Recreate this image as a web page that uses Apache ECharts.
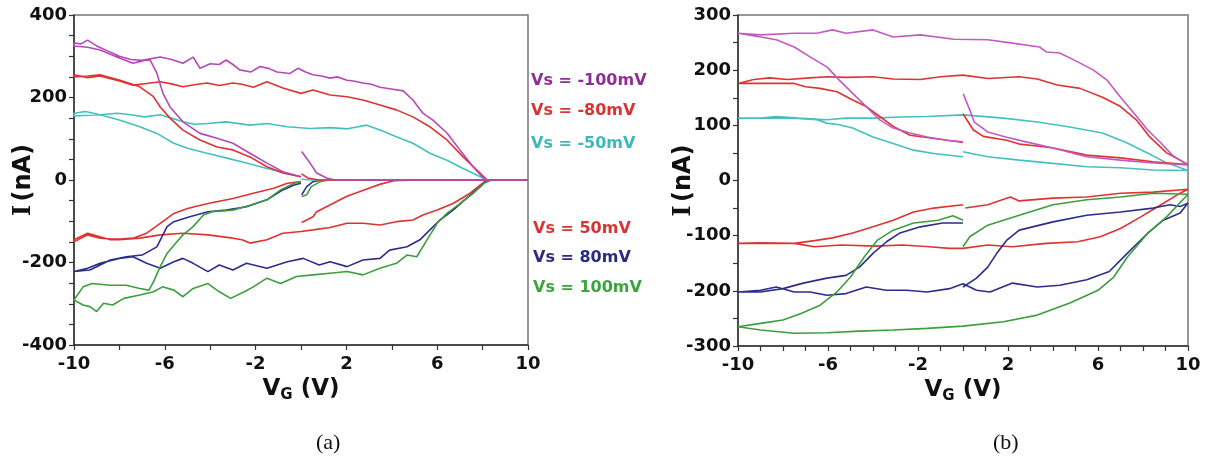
<!DOCTYPE html>
<html>
<head>
<meta charset="utf-8">
<script src="https://cdn.jsdelivr.net/npm/echarts@6/dist/echarts.min.js"></script>
<style>
html,body{margin:0;padding:0;background:#fff;}
#chart{width:1209px;height:463px;}
</style>
</head>
<body>
<div id="chart"></div>
<script>
// ---------- Data (sweep order: 0 -> 10 -> -10 -> 0), [V_G, I(nA)] ----------
// Panel (a)
var aM100 = [[0.03,69],[0.4,41],[0.69,17],[1.13,5],[1.5,0],[4,0],[8.2,0],[10,0],
  [8.2,0],[8.0,7],[7.58,32],[7.0,73],[6.43,114],[5.81,145],[5.37,162],[4.93,194],[4.5,216],[4.05,220],[3.48,225],[3.1,232],[2.73,235],[2.3,240],[2.03,242],[1.6,250],[1.28,247],[0.9,252],[0.53,255],[0.2,262],[-0.13,271],[-0.5,258],[-1.06,262],[-1.4,270],[-1.8,275],[-2.2,262],[-2.7,267],[-3.0,280],[-3.3,291],[-3.6,280],[-4.0,282],[-4.45,271],[-4.75,298],[-5.2,283],[-5.7,292],[-6.2,298],[-7.0,290],[-7.5,292],[-8.0,300],[-8.4,310],[-9.0,325],[-9.4,339],[-9.7,330],[-10,332],
  [-10,325],[-9.4,322],[-8.85,315],[-7.97,295],[-7.4,283],[-6.9,290],[-6.65,291],[-6.35,259],[-6.08,210],[-5.77,177],[-5.2,141],[-4.45,113],[-3.7,101],[-3.0,89],[-2.25,65],[-1.5,41],[-0.8,20],[-0.04,8]];
var aM80 = [[0.02,15],[0.3,5],[0.8,0],[10,0],
  [8.2,0],[7.9,16],[7.14,56],[6.43,97],[5.68,129],[4.93,153],[4.2,170],[3.48,182],[2.73,194],[2.03,202],[1.28,206],[0.53,218],[0,210],[-0.8,223],[-1.5,238],[-2.1,225],[-2.6,232],[-3.0,235],[-3.6,229],[-4.14,235],[-4.7,231],[-5.2,226],[-5.7,233],[-6.2,238],[-6.8,234],[-7.4,230],[-8.0,240],[-8.85,252],[-9.4,248],[-10,255],
  [-10,250],[-9.4,252],[-8.85,255],[-7.97,242],[-7.1,226],[-6.5,202],[-6.2,177],[-5.77,150],[-5.2,121],[-4.45,97],[-3.7,80],[-3.0,73],[-2.25,56],[-1.5,32],[-0.8,17],[0,8]];
var aM50 = [[0.02,2],[0.5,0],[10,0],
  [8.2,0],[7.9,8],[7.14,28],[6.43,48],[5.68,65],[4.93,89],[4.2,105],[3.48,121],[2.9,133],[2.4,128],[2.03,124],[1.3,127],[0.4,125],[-0.6,129],[-1.5,137],[-2.25,133],[-3.3,141],[-4.1,137],[-4.7,135],[-5.2,141],[-5.7,150],[-6.2,158],[-6.9,153],[-7.5,158],[-8.1,162],[-8.85,158],[-9.5,166],[-10,162],
  [-10,155],[-8.85,158],[-7.97,145],[-7.1,129],[-6.35,113],[-5.6,89],[-5.0,77],[-4.14,65],[-3.26,53],[-2.4,41],[-1.5,28],[-0.6,16],[0,8]];
var a50 = [[0.03,-103],[0.53,-89],[0.69,-77],[1.4,-57],[2.0,-40],[2.9,-22],[3.5,-10],[4.1,-2],[5,0],[10,0],
  [8.2,0],[7.9,-12],[7.45,-32],[6.7,-57],[6.0,-73],[5.37,-85],[4.93,-97],[4.2,-101],[3.48,-109],[2.73,-105],[2.03,-105],[1.28,-115],[0.53,-121],[0,-125],[-0.8,-129],[-1.5,-145],[-2.25,-153],[-2.6,-145],[-3.0,-141],[-4.1,-133],[-5.2,-129],[-6.2,-133],[-7.1,-141],[-8.0,-145],[-8.85,-141],[-9.4,-133],[-10,-150],
  [-10,-145],[-9.4,-129],[-8.4,-145],[-7.4,-141],[-6.8,-129],[-6.2,-105],[-5.6,-81],[-5.0,-69],[-4.1,-57],[-3.0,-45],[-2.1,-32],[-1.2,-20],[-0.6,-8],[0,-4]];
var a80 = [[0.03,-36],[0.25,-16],[0.53,-4],[0.9,0],[10,0],
  [8.2,0],[7.9,-16],[7.3,-44],[6.7,-73],[6.12,-97],[5.68,-121],[5.24,-145],[4.67,-162],[3.9,-170],[3.48,-190],[2.73,-194],[2.03,-210],[1.28,-198],[0.8,-206],[0.1,-190],[-0.6,-198],[-1.5,-214],[-2.4,-202],[-3.0,-218],[-3.6,-206],[-4.1,-222],[-4.75,-202],[-5.2,-190],[-5.6,-198],[-6.2,-214],[-6.8,-202],[-7.4,-186],[-8.0,-190],[-8.85,-202],[-9.4,-214],[-10,-222],
  [-10,-226],[-9.3,-218],[-8.4,-194],[-7.7,-186],[-7.0,-182],[-6.35,-162],[-5.9,-113],[-5.6,-101],[-4.9,-89],[-4.1,-77],[-3.3,-73],[-2.4,-65],[-1.5,-48],[-0.8,-24],[-0.3,-12],[0,-8]];
var a100 = [[0.03,-40],[0.25,-36],[0.45,-16],[0.85,-4],[1.2,0],[10,0],
  [8.4,0],[8.05,-8],[7.6,-32],[7.0,-57],[6.43,-81],[6.0,-105],[5.55,-145],[5.1,-186],[4.67,-182],[4.2,-202],[3.48,-214],[2.73,-230],[2.03,-222],[1.28,-226],[0.53,-230],[-0.2,-234],[-0.9,-251],[-1.5,-238],[-2.1,-259],[-2.5,-271],[-3.1,-287],[-3.6,-271],[-4.1,-251],[-4.75,-263],[-5.2,-283],[-5.6,-267],[-6.1,-259],[-6.5,-271],[-7.1,-279],[-7.8,-287],[-8.3,-303],[-8.7,-299],[-9.0,-319],[-9.3,-307],[-9.6,-303],[-10,-291],
  [-10,-295],[-9.6,-259],[-9.2,-251],[-8.4,-255],[-7.7,-255],[-7.1,-263],[-6.7,-267],[-6.5,-247],[-6.2,-210],[-5.9,-178],[-5.6,-158],[-5.2,-133],[-4.75,-113],[-4.3,-85],[-3.9,-77],[-3.0,-73],[-2.25,-61],[-1.5,-48],[-0.9,-24],[-0.3,-8],[0,-4]];

// Panel (b)
var bM100 = [[0.01,157],[0.3,128],[0.5,106],[1.1,88],[1.9,79],[2.8,70],[4.0,59],[5.5,43],[7.0,37],[8.45,32],[10,28],
  [9.3,46],[8.8,68],[8.2,92],[7.6,122],[7.0,151],[6.4,182],[5.8,200],[5.1,215],[4.3,231],[3.7,233],[3.4,242],[2.2,249],[1.1,255],[-0.4,256],[-1.9,264],[-3.1,260],[-4.0,273],[-5.2,267],[-5.8,273],[-6.5,267],[-7.5,267],[-9.0,264],[-10,267],
  [-9.0,260],[-8.3,255],[-7.5,242],[-6.8,224],[-6.05,206],[-5.5,182],[-4.9,158],[-4.3,134],[-3.7,110],[-3.1,95],[-2.35,86],[-1.6,79],[-0.7,73],[0,70]];
var bM80 = [[0,121],[0.45,92],[0.9,80],[1.94,73],[2.5,66],[3.4,62],[4.0,59],[5.5,46],[7.0,41],[8.45,34],[10,29],
  [9.05,50],[8.3,79],[7.7,110],[7.0,134],[6.2,151],[5.2,167],[4.2,173],[3.3,184],[2.5,188],[1.1,185],[0,191],[-1.0,188],[-1.9,183],[-3.1,184],[-4.0,188],[-5.2,187],[-6.05,188],[-6.8,186],[-7.8,183],[-8.6,186],[-9.3,183],[-10,176],
  [-9.0,176],[-7.5,176],[-7.0,170],[-6.35,167],[-5.6,161],[-4.9,146],[-4.3,134],[-3.7,116],[-3.1,98],[-2.35,82],[-1.6,78],[-0.7,73],[0,69]];
var bM50 = [[0,52],[1.1,43],[2.5,37],[4.0,31],[5.5,25],[7.0,23],[8.45,19],[10,18],
  [9.05,32],[8.2,50],[7.3,68],[6.2,86],[4.75,97],[3.3,106],[1.8,113],[0,119],[-1.6,116],[-2.8,115],[-4.0,113],[-5.2,113],[-6.05,110],[-7.3,113],[-8.3,116],[-9.0,113],[-10,113],
  [-9,113],[-7.5,113],[-6.5,110],[-6.05,104],[-5.5,101],[-4.9,95],[-4.0,79],[-3.1,67],[-2.2,55],[-1.3,49],[0,43]];
var b50 = [[0.1,-50],[1.1,-44],[2.1,-30],[2.5,-37],[4.0,-32],[5.5,-30],[7.0,-23],[8.45,-21],[10,-16],
  [9.65,-23],[8.8,-44],[7.9,-66],[7.0,-87],[6.1,-102],[5.1,-111],[3.7,-114],[2.2,-120],[1.1,-117],[0,-123],[-0.6,-123],[-1.5,-120],[-2.7,-117],[-3.9,-119],[-5.4,-117],[-6.6,-120],[-7.5,-114],[-9.0,-114],[-10,-114],
  [-9.0,-113],[-7.5,-114],[-6.6,-109],[-5.8,-104],[-4.9,-95],[-4.0,-84],[-3.1,-72],[-2.2,-57],[-1.3,-50],[0,-44]];
var b80 = [[0,-193],[0.6,-177],[1.1,-157],[1.5,-132],[1.95,-108],[2.5,-90],[4.0,-75],[5.5,-63],[7.0,-57],[8.45,-50],[9.2,-44],[9.65,-47],[10,-41],
  [9.65,-59],[8.9,-72],[8.2,-96],[7.3,-132],[6.5,-165],[5.5,-180],[4.3,-190],[3.3,-193],[2.2,-186],[1.2,-202],[0.6,-199],[0,-187],[-0.6,-196],[-1.6,-202],[-2.5,-199],[-3.4,-199],[-4.3,-193],[-5.2,-205],[-6.05,-208],[-6.8,-202],[-7.5,-202],[-8.3,-193],[-9.0,-199],[-10,-202],
  [-9,-202],[-8,-196],[-7.1,-186],[-6.05,-177],[-5.2,-172],[-4.6,-157],[-4.0,-132],[-3.4,-111],[-2.8,-95],[-1.9,-84],[-0.9,-77],[0,-77]];
var b100 = [[0,-120],[0.3,-102],[1.1,-81],[2.5,-63],[4.0,-44],[5.5,-35],[7.0,-30],[8.45,-23],[10,-25],
  [9.05,-66],[8.2,-96],[7.3,-139],[6.7,-175],[6.0,-199],[4.75,-222],[3.3,-244],[1.8,-256],[0,-264],[-1.6,-268],[-3.1,-271],[-4.6,-273],[-6.05,-276],[-7.5,-277],[-9.0,-271],[-10,-265],
  [-9,-259],[-8,-253],[-7.2,-241],[-6.35,-226],[-5.6,-202],[-5.0,-175],[-4.4,-139],[-3.8,-108],[-3.1,-90],[-2.2,-77],[-1.1,-72],[-0.45,-64],[0,-72]];

var legendTop = ['Vs = -100mV', 'Vs = -80mV', 'Vs = -50mV'];
var legendBottom = ['Vs = 50mV', 'Vs = 80mV', 'Vs = 100mV'];
var xTickLabels = [-10, -6, -2, 2, 6, 10];
var captions = ['(a)', '(b)'];

// ---------- Styling ----------
var C = {
  purple: '#b548b8', red: '#dd3333', teal: '#45c0c0', blue: '#2d2d8c', green: '#3d9e3d'
};
var CL = {
  purple: '#8e2f96', red: '#d83434', teal: '#3fb8b8', blue: '#2a2a80', green: '#3aa53a'
};
var SANS = 'DejaVu Sans';

function xAxisCfg(gi, interval) {
  return {
    gridIndex: gi, type: 'value', min: -10, max: 10, interval: interval,
    axisLine: { onZero: false, lineStyle: { color: '#333', width: 1.5 } },
    axisTick: { inside: false, length: 5, lineStyle: { color: '#333', width: 1.2 } },
    splitLine: { show: false },
    axisLabel: {
      margin: 10, color: '#111', fontFamily: SANS, fontWeight: 'bold', fontSize: 18,
      formatter: function (v) { return xTickLabels.indexOf(v) >= 0 ? String(v) : ''; }
    },
    name: '{v|V}{g|G}{v| (V)}', nameLocation: 'middle', nameGap: 30, nameMoveOverlap: false,
    nameTextStyle: {
      rich: {
        v: { fontFamily: SANS, fontWeight: 'bold', fontSize: 23, color: '#111', lineHeight: 28 },
        g: { fontFamily: SANS, fontWeight: 'bold', fontSize: 15, color: '#111', lineHeight: 28, verticalAlign: 'bottom', padding: [14, 0, 0, 0] }
      }
    }
  };
}
function yAxisCfg(gi, lim, labStep, gap) {
  return {
    gridIndex: gi, type: 'value', min: -lim, max: lim, interval: 50,
    axisLine: { onZero: false, lineStyle: { color: '#333', width: 1.5 } },
    axisTick: { inside: false, length: 5, lineStyle: { color: '#333', width: 1.2 } },
    splitLine: { show: false },
    axisLabel: {
      margin: 7, color: '#111', fontFamily: SANS, fontWeight: 'bold', fontSize: 18,
      formatter: function (v) { return v % labStep === 0 ? String(v) : ''; }
    },
    name: '{i|I} {s|(nA)}', nameLocation: 'middle', nameRotate: 90, nameGap: gap, nameMoveOverlap: false,
    nameTextStyle: {
      rich: {
        i: { fontFamily: 'DejaVu Serif', fontWeight: 'bold', fontSize: 24, color: '#111' },
        s: { fontFamily: SANS, fontWeight: 'bold', fontSize: 24, color: '#111' }
      }
    }
  };
}
function line(data, color, xi) {
  return {
    type: 'line', data: data, xAxisIndex: xi, yAxisIndex: xi, showSymbol: false, symbol: 'none',
    lineStyle: { color: color, width: 1.6 }, silent: true, animation: false
  };
}
function legendText(txt, x, y, color) {
  return { type: 'text', left: x, top: y - 9, style: { text: txt, fill: color, font: 'bold 16px "DejaVu Sans"' } };
}

var chart = echarts.init(document.getElementById('chart'));
chart.setOption({
  animation: false,
  backgroundColor: '#fff',
  grid: [
    { left: 74, right: 681, top: 15, bottom: 118, show: true, borderColor: '#777', borderWidth: 1.5, containLabel: false, outerBoundsMode: 'none' },
    { left: 738, right: 21, top: 15, bottom: 117, show: true, borderColor: '#777', borderWidth: 1.5, containLabel: false, outerBoundsMode: 'none' }
  ],
  xAxis: [xAxisCfg(0, 2), xAxisCfg(1, 1)],
  yAxis: [yAxisCfg(0, 400, 200, 38), yAxisCfg(1, 300, 100, 42)],
  series: [
    line(a50, C.red, 0), line(a80, C.blue, 0), line(a100, C.green, 0),
    line(aM50, C.teal, 0), line(aM80, C.red, 0), line(aM100, C.purple, 0),
    line(b50, C.red, 1), line(b80, C.blue, 1), line(b100, C.green, 1),
    line(bM50, C.teal, 1), line(bM80, C.red, 1), line(bM100, '#c35ac3', 1)
  ],
  graphic: [
    legendText(legendTop[0], 531, 82, CL.purple),
    legendText(legendTop[1], 531, 112, CL.red),
    legendText(legendTop[2], 531, 145, CL.teal),
    legendText(legendBottom[0], 533, 230, CL.red),
    legendText(legendBottom[1], 533, 259, CL.blue),
    legendText(legendBottom[2], 533, 289, CL.green),
    { type: 'text', left: 316, top: 432, style: { text: captions[0], fill: '#111', font: '22px "Liberation Serif"' } },
    { type: 'text', left: 993, top: 432, style: { text: captions[1], fill: '#111', font: '22px "Liberation Serif"' } }
  ]
});
</script>
</body>
</html>
